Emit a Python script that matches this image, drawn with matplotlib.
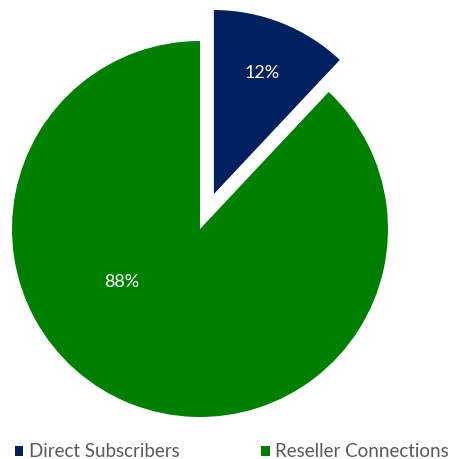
import matplotlib
matplotlib.use("Agg")
import matplotlib.pyplot as plt
import numpy as np

categories = ["Direct Subscribers", "Reseller Connections"]
values = [12, 88]
colors = ["#002060", "#008000"]
explode = [0.2, 0.0]

plt.rcParams['font.family'] = ['Lato', 'DejaVu Sans']

W, H = 456, 459
fig = plt.figure(figsize=(W/100, H/100), dpi=100)
cx, cy, r = 200, 229, 188
ax = fig.add_axes([(cx - r)/W, (H - cy - r)/H, 2*r/W, 2*r/H])
wedges, texts, autotexts = ax.pie(values, colors=colors, explode=explode,
                                  startangle=90, counterclock=False,
                                  autopct='%1.0f%%', pctdistance=0.69,
                                  textprops=dict(color='white', fontsize=13),
                                  wedgeprops=dict(linewidth=0))
for w in wedges:
    w.set_clip_on(False)
wedges[0].set_radius(184/188)
# green label placement
ang = np.deg2rad(214)
autotexts[1].set_position((0.5*np.cos(ang), 0.5*np.sin(ang)))
ax.set_xlim(-1, 1)
ax.set_ylim(-1, 1)
ax.axis('off')

leg = fig.legend(wedges, categories, loc='lower left', bbox_to_anchor=(-0.005, -0.04),
                 ncol=2, frameon=False, fontsize=13.5, handlelength=0.45, handleheight=0.45,
                 handletextpad=0.3, columnspacing=4.37, labelcolor='#595959')
fig.savefig("out.png", dpi=100)
